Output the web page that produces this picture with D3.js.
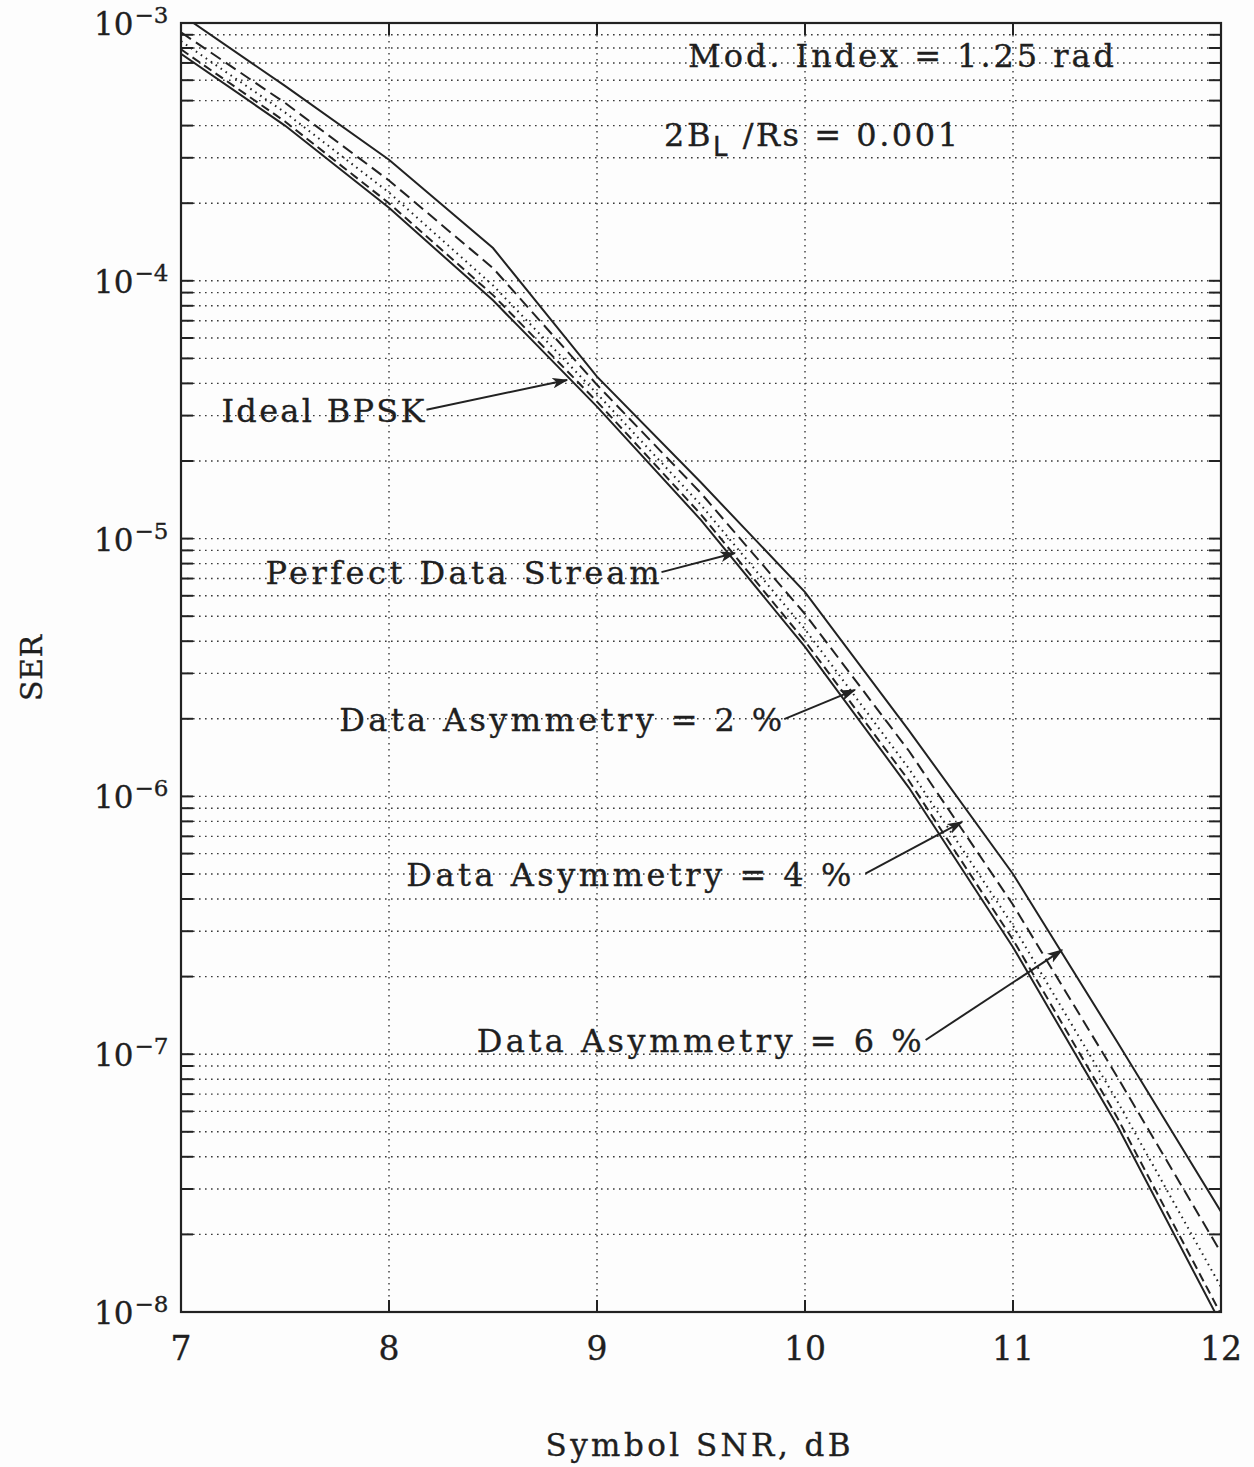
<!DOCTYPE html>
<html>
<head>
<meta charset="utf-8">
<script src="https://cdn.jsdelivr.net/npm/d3@7"></script>
<style>
  html, body { margin: 0; padding: 0; background: #fdfdfd; }
  svg { display: block; }
  text { font-family: "DejaVu Serif", "Liberation Serif", serif; fill: #1f1f1f; stroke: #1f1f1f; stroke-width: 0.35; }
</style>
</head>
<body>
<svg id="chart" width="1254" height="1467"></svg>
<script>
// Symbol SNR in dB at which each curve is sampled
const snr = [7, 7.5, 8, 8.5, 9, 9.5, 10, 10.5, 11, 11.5, 12];

// Symbol error rate for each case
const serIdeal   = [7.6e-4, 4.0e-4, 1.92e-4, 8.4e-5, 3.25e-5, 1.18e-5, 3.8e-6, 1.08e-6, 2.6e-7, 5.3e-8, 9.0e-9];
const serPerfect = [7.9e-4, 4.15e-4, 2.0e-4, 8.8e-5, 3.4e-5, 1.24e-5, 4.0e-6, 1.15e-6, 2.78e-7, 5.7e-8, 9.8e-9];
const serAsym2   = [8.5e-4, 4.5e-4, 2.2e-4, 9.6e-5, 3.65e-5, 1.35e-5, 4.45e-6, 1.28e-6, 3.15e-7, 6.6e-8, 1.25e-8];
const serAsym4   = [9.2e-4, 4.9e-4, 2.45e-4, 1.12e-4, 3.95e-5, 1.5e-5, 5.1e-6, 1.5e-6, 3.8e-7, 8.2e-8, 1.7e-8];
const serAsym6   = [1.08e-3, 5.7e-4, 2.95e-4, 1.34e-4, 4.25e-5, 1.65e-5, 6.2e-6, 1.8e-6, 5.0e-7, 1.12e-7, 2.45e-8];

// Axis ticks
const xTicks = [7, 8, 9, 10, 11, 12];
const yDecades = [-3, -4, -5, -6, -7, -8];

// Curve labels: text, arrow tail (snr, ser) and arrow head (snr, ser)
const labelText = ["Ideal BPSK", "Perfect Data Stream", "Data Asymmetry = 2 %", "Data Asymmetry = 4 %", "Data Asymmetry = 6 %"];
const labelTail = [[8.18, 10 ** -4.50], [9.31, 10 ** -5.13], [9.90, 10 ** -5.70], [10.29, 10 ** -6.30], [10.58, 10 ** -6.945]];
const labelHead = [[8.856, 10 ** -4.385], [9.663, 10 ** -5.056], [10.24, 10 ** -5.587], [10.755, 10 ** -6.099], [11.236, 10 ** -6.596]];

const series = [
  { values: serIdeal,   dash: null },
  { values: serPerfect, dash: "9,5" },
  { values: serAsym2,   dash: "1.6,4.4" },
  { values: serAsym4,   dash: "12,6" },
  { values: serAsym6,   dash: null }
];

const svg = d3.select("#chart");
const plotL = 181, plotR = 1221, plotT = 23, plotB = 1312;

const x = d3.scaleLinear().domain([7, 12]).range([plotL, plotR]);
const y = d3.scaleLog().domain([1e-3, 1e-8]).range([plotT, plotB]);

svg.append("rect").attr("width", 1254).attr("height", 1467).attr("fill", "#fdfdfd");

// clip region for curves
svg.append("clipPath").attr("id", "plotClip")
  .append("rect").attr("x", plotL).attr("y", plotT).attr("width", plotR - plotL).attr("height", plotB - plotT);

// grid values: every 1..9 x decade
const gridVals = [];
for (let e = -8; e < -3; e++) {
  for (let k = 1; k <= 9; k++) gridVals.push(k * 10 ** e);
}
const gridInner = gridVals.filter(v => v > 1.0001e-8 && v < 0.9999e-3);

const grid = svg.append("g").attr("stroke", "#3a3a3a").attr("stroke-width", 1.4)
  .attr("stroke-dasharray", "1.6,4.4");
grid.selectAll("line.h").data(gridInner).join("line")
  .attr("x1", plotL).attr("x2", plotR)
  .attr("y1", d => y(d)).attr("y2", d => y(d));
grid.selectAll("line.v").data(xTicks.slice(1, -1)).join("line")
  .attr("y1", plotT).attr("y2", plotB)
  .attr("x1", d => x(d)).attr("x2", d => x(d));

// ticks on all four sides (inward)
const ticks = svg.append("g").attr("stroke", "#222").attr("stroke-width", 2);
const tickLen = 12;
ticks.selectAll("line.l").data(gridInner).join("line")
  .attr("x1", plotL).attr("x2", plotL + tickLen)
  .attr("y1", d => y(d)).attr("y2", d => y(d));
ticks.selectAll("line.r").data(gridInner).join("line")
  .attr("x1", plotR).attr("x2", plotR - tickLen)
  .attr("y1", d => y(d)).attr("y2", d => y(d));
ticks.selectAll("line.b").data(xTicks.slice(1, -1)).join("line")
  .attr("x1", d => x(d)).attr("x2", d => x(d))
  .attr("y1", plotB).attr("y2", plotB - tickLen);
ticks.selectAll("line.t").data(xTicks.slice(1, -1)).join("line")
  .attr("x1", d => x(d)).attr("x2", d => x(d))
  .attr("y1", plotT).attr("y2", plotT + tickLen);

// curves
const line = d3.line()
  .x((d, i) => x(snr[i]))
  .y(d => y(d));

const curves = svg.append("g").attr("clip-path", "url(#plotClip)");
curves.selectAll("path").data(series).join("path")
  .attr("d", d => line(d.values))
  .attr("fill", "none")
  .attr("stroke", "#222")
  .attr("stroke-width", 2)
  .attr("stroke-dasharray", d => d.dash);

// frame
svg.append("rect")
  .attr("x", plotL).attr("y", plotT)
  .attr("width", plotR - plotL).attr("height", plotB - plotT)
  .attr("fill", "none").attr("stroke", "#222").attr("stroke-width", 2.2);

// x tick labels
svg.append("g").selectAll("text").data(xTicks).join("text")
  .attr("x", d => x(d)).attr("y", 1360)
  .attr("text-anchor", "middle")
  .attr("font-size", 33)
  .text(d => d);

// y tick labels: 10 with superscript exponent
const yl = svg.append("g").selectAll("text").data(yDecades).join("text")
  .attr("x", 94).attr("y", d => y(10 ** d) + 12)
  .attr("font-size", 31);
yl.append("tspan").text("10");
yl.append("tspan").attr("font-size", 23).attr("dy", -12).attr("dx", 1).text(d => "\u2212" + (-d));

// axis titles
svg.append("text").attr("x", 698).attr("y", 1456)
  .attr("text-anchor", "middle").attr("font-size", 31)
  .attr("textLength", 305).attr("lengthAdjust", "spacing")
  .text("Symbol SNR, dB");
svg.append("text")
  .attr("transform", "translate(42,668) rotate(-90)")
  .attr("text-anchor", "middle").attr("font-size", 30)
  .attr("textLength", 66).attr("lengthAdjust", "spacing")
  .text("SER");

// parameter annotations
svg.append("text").attr("x", 688).attr("y", 67)
  .attr("font-size", 32).attr("textLength", 426).attr("lengthAdjust", "spacing")
  .text("Mod. Index = 1.25 rad");
const bl = svg.append("text").attr("x", 664).attr("y", 146).attr("font-size", 32)
  .attr("textLength", 294).attr("lengthAdjust", "spacing");
bl.append("tspan").text("2B");
bl.append("tspan").attr("font-size", 26).attr("dy", 10).attr("font-family", "DejaVu Sans").text("L");
bl.append("tspan").attr("dy", -10).text(" /Rs = 0.001");

// arrow head marker
svg.append("defs").append("marker")
  .attr("id", "arrow").attr("viewBox", "0 0 12 8")
  .attr("refX", 11).attr("refY", 4)
  .attr("markerWidth", 16).attr("markerHeight", 11)
  .attr("markerUnits", "userSpaceOnUse")
  .attr("orient", "auto")
  .append("path").attr("d", "M0,0 L12,4 L0,8 L3,4 Z").attr("fill", "#222");

const lbl = svg.append("g");
const labelWidths = [203, 394, 443, 445, 445];
const labelGap = [2, 2, 2, 14, 4];
labelText.forEach((t, i) => {
  const tx = x(labelTail[i][0]), ty = y(labelTail[i][1]);
  lbl.append("text")
    .attr("x", tx - labelGap[i]).attr("y", ty + 12)
    .attr("text-anchor", "end")
    .attr("font-size", 32)
    .attr("textLength", labelWidths[i]).attr("lengthAdjust", "spacing")
    .text(t);
  lbl.append("line")
    .attr("x1", tx).attr("y1", ty)
    .attr("x2", x(labelHead[i][0])).attr("y2", y(labelHead[i][1]))
    .attr("stroke", "#222").attr("stroke-width", 2)
    .attr("marker-end", "url(#arrow)");
});
</script>
</body>
</html>
